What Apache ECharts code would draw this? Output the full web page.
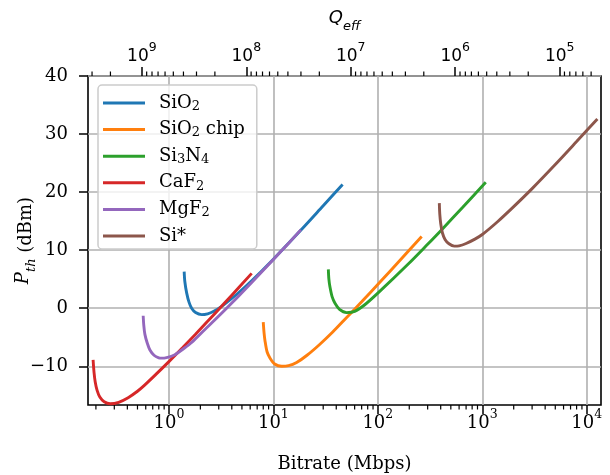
<!DOCTYPE html>
<html>
<head>
<meta charset="utf-8">
<script src="https://cdn.jsdelivr.net/npm/echarts@6/dist/echarts.min.js"></script>
<style>
html,body{margin:0;padding:0;background:#fff;}
#chart{width:610px;height:475px;}
</style>
</head>
<body>
<div id="chart"></div>
<script>
// ---- data (bitrate in Mbps, threshold power in dBm) ----
const seriesNames = ['SiO2', 'SiO2 chip', 'Si3N4', 'CaF2', 'MgF2', 'Si*'];
const seriesColors = ['#1f77b4', '#ff7f0e', '#2ca02c', '#d62728', '#9467bd', '#8c564b'];

const sio2Bitrate = [1.40, 1.42, 1.48, 1.56, 1.65, 1.8, 2.06, 2.35, 2.66, 3.3, 4.5, 6.2, 10, 18, 30, 46];
const sio2Power   = [6.3, 4.6, 2.6, 1.0, 0.0, -0.75, -1.1, -0.96, -0.58, 0.5, 2.45, 4.72, 8.45, 13.3, 17.65, 21.3];

const chipBitrate = [8.0, 8.15, 8.3, 8.7, 9.3, 10.3, 12.0, 14, 16.7, 21, 27.9, 37, 50.3, 70, 105, 160, 263];
const chipPower   = [-2.4, -4.3, -5.5, -7.5, -8.6, -9.6, -10.0, -9.9, -9.35, -8.1, -6.2, -4.1, -1.6, 1.1, 4.5, 8.1, 12.35];

const si3n4Bitrate = [33.6, 34.0, 34.8, 36.5, 38.9, 43, 50.3, 60, 75, 100, 200, 290, 420, 650, 1080];
const si3n4Power   = [6.7, 5.0, 3.7, 2.0, 0.86, -0.2, -0.75, -0.55, 0.6, 2.6, 7.8, 10.75, 13.75, 17.4, 21.7];

const caf2Bitrate = [0.188, 0.192, 0.197, 0.205, 0.218, 0.24, 0.274, 0.33, 0.407, 0.5, 0.589, 0.75, 1.0, 1.35, 1.78, 2.76, 4.0, 6.2];
const caf2Power   = [-8.9, -11.1, -12.7, -14.1, -15.3, -16.1, -16.45, -16.2, -15.4, -14.3, -13.2, -11.4, -9.2, -6.8, -4.55, -0.9, 2.25, 6.0];

const mgf2Bitrate = [0.567, 0.575, 0.589, 0.62, 0.658, 0.72, 0.8, 0.851, 0.95, 1.14, 1.4, 1.65, 2.2, 2.76, 4.0, 6.2, 10, 14, 18.3];
const mgf2Power   = [-1.3, -3.0, -4.5, -6.0, -7.2, -8.1, -8.55, -8.6, -8.5, -8.0, -6.9, -5.9, -3.7, -2.0, 0.9, 4.45, 8.4, 11.2, 13.5];

const siBitrate = [388, 392, 400, 415, 440, 480, 540, 600, 700, 850, 1000, 1400, 2000, 3000, 5000, 8000, 10000, 12650];
const siPower   = [18.1, 16.2, 14.6, 13.0, 11.85, 11.1, 10.7, 10.75, 11.15, 11.9, 12.7, 14.9, 17.5, 20.6, 24.75, 28.7, 30.6, 32.6];

// axis ranges and ticks
const bitrateMin = 0.168, bitrateMax = 13700;
const qConst = 5.51e8;                 // Q_eff = qConst / bitrate
const qMin = qConst / bitrateMax, qMax = qConst / bitrateMin;
const powerMin = -16.67, powerMax = 40;
const powerTicks = [-10, 0, 10, 20, 30, 40];
const bitrateMajorTicks = [1, 10, 100, 1000, 10000];
const qMajorTicks = [1e5, 1e6, 1e7, 1e8, 1e9];

function minorTicksIn(lo, hi) {
  const out = [];
  for (let e = -2; e <= 10; e++) {
    for (let m = 2; m <= 9; m++) {
      const v = m * Math.pow(10, e);
      if (v >= lo && v <= hi) out.push(v);
    }
  }
  return out;
}
const bitrateMinorTicks = minorTicksIn(bitrateMin, bitrateMax);
const qMinorTicks = minorTicksIn(qMin, qMax);

const seriesData = [
  [sio2Bitrate, sio2Power],
  [chipBitrate, chipPower],
  [si3n4Bitrate, si3n4Power],
  [caf2Bitrate, caf2Power],
  [mgf2Bitrate, mgf2Power],
  [siBitrate, siPower]
];

const SERIF = 'DejaVu Serif';
const SANS = 'DejaVu Sans';
const FS = 18;
const MAJOR_LEN = 9, MINOR_LEN = 4.5;

const legendRich = {
  s: { fontFamily: SERIF, fontSize: 13, lineHeight: 11, verticalAlign: 'bottom', color: '#000' }
};
const legendLabels = {
  'SiO2': 'SiO{s|2}',
  'SiO2 chip': 'SiO{s|2} chip',
  'Si3N4': 'Si{s|3}N{s|4}',
  'CaF2': 'CaF{s|2}',
  'MgF2': 'MgF{s|2}',
  'Si*': 'Si*'
};

function supRich(family, size) {
  return {
    b: { fontFamily: family, fontSize: size, lineHeight: 24, color: '#000', verticalAlign: 'bottom' },
    s: { fontFamily: family, fontSize: 12.5, lineHeight: 24, color: '#000', verticalAlign: 'top' }
  };
}
function powLabel(v) {
  const e = Math.round(Math.log10(v));
  return '{b|10}{s|' + e + '}';
}

const lineSeries = seriesNames.map((name, i) => ({
  name: name,
  type: 'line',
  xAxisIndex: 0,
  yAxisIndex: 0,
  data: seriesData[i][0].map((b, j) => [b, seriesData[i][1][j]]),
  showSymbol: false,
  symbol: 'none',
  smooth: 0.3,
  lineStyle: { width: 2.9, color: seriesColors[i], cap: 'butt' },
  itemStyle: { color: seriesColors[i] },
  z: 3
}));

const minorBottom = {
  type: 'custom',
  xAxisIndex: 0, yAxisIndex: 0,
  silent: true, clip: false,
  data: bitrateMinorTicks.map(v => [v, powerMin]),
  encode: { x: 0, y: 1 },
  renderItem: function (params, api) {
    const p = api.coord([api.value(0), powerMin]);
    return { type: 'line', shape: { x1: p[0], y1: p[1], x2: p[0], y2: p[1] + MINOR_LEN }, style: { stroke: '#000', lineWidth: 1.2 } };
  },
  z: 5
};
const minorTop = {
  type: 'custom',
  xAxisIndex: 1, yAxisIndex: 0,
  silent: true, clip: false,
  data: qMinorTicks.map(v => [v, powerMax]),
  encode: { x: 0, y: 1 },
  renderItem: function (params, api) {
    const p = api.coord([api.value(0), powerMax]);
    return { type: 'line', shape: { x1: p[0], y1: p[1], x2: p[0], y2: p[1] - MINOR_LEN }, style: { stroke: '#000', lineWidth: 1.2 } };
  },
  z: 5
};

const chart = echarts.init(document.getElementById('chart'), null, { renderer: 'canvas' });
chart.setOption({
  animation: false,
  backgroundColor: '#fff',
  grid: { left: 88, right: 9, top: 76, bottom: 70, containLabel: false, outerBoundsMode: 'none',
    show: true, borderColor: '#000', borderWidth: 1.6, backgroundColor: 'transparent' },
  legend: {
    data: seriesNames,
    orient: 'vertical',
    left: 98, top: 85,
    padding: [8, 12, 3, 5],
    itemGap: 6.6,
    itemWidth: 42, itemHeight: 3,
    icon: 'rect',
    borderColor: '#cccccc', borderWidth: 1.5, borderRadius: 4,
    backgroundColor: 'rgba(255,255,255,0.8)',
    selectedMode: false,
    formatter: function (name) { return legendLabels[name]; },
    textStyle: { fontFamily: SERIF, fontSize: FS, lineHeight: 20, color: '#000', padding: [0, 0, 0, 9], rich: legendRich }
  },
  xAxis: [
    {
      type: 'log', position: 'bottom', min: bitrateMin, max: bitrateMax, logBase: 10,
      name: 'Bitrate (Mbps)', nameLocation: 'middle', nameGap: 50, nameMoveOverlap: false,
      nameTextStyle: { fontFamily: SERIF, fontSize: FS, color: '#000' },
      axisLine: { show: false, onZero: false },
      axisTick: { show: true, length: MAJOR_LEN, lineStyle: { color: '#000', width: 1.5 }, customValues: bitrateMajorTicks },
      axisLabel: { margin: 3, customValues: bitrateMajorTicks, formatter: powLabel, rich: supRich(SERIF, FS) },
      splitLine: { show: true, lineStyle: { color: '#b0b0b0', width: 1.6 } },
      minorTick: { show: false }, minorSplitLine: { show: false }
    },
    {
      type: 'log', position: 'top', inverse: true, min: qMin, max: qMax, logBase: 10,
      name: '{i|Q}{e|eff}', nameLocation: 'middle', nameGap: 43, nameMoveOverlap: false,
      nameTextStyle: { rich: {
        i: { fontFamily: SANS, fontStyle: 'italic', fontSize: FS, color: '#000', lineHeight: 24, verticalAlign: 'top' },
        e: { fontFamily: SANS, fontStyle: 'italic', fontSize: 13, color: '#000', lineHeight: 24, verticalAlign: 'bottom' } } },
      axisLine: { show: false, onZero: false },
      axisTick: { show: true, length: MAJOR_LEN, lineStyle: { color: '#000', width: 1.5 }, customValues: qMajorTicks },
      axisLabel: { margin: 11, customValues: qMajorTicks, formatter: powLabel, rich: supRich(SANS, 17) },
      splitLine: { show: false },
      minorTick: { show: false }
    }
  ],
  yAxis: [{
    type: 'value', min: powerMin, max: powerMax,
    name: '{i|P}{s|th} (dBm)', nameLocation: 'middle', nameGap: 50, nameRotate: 90, nameMoveOverlap: false,
    nameTextStyle: { fontFamily: SERIF, fontSize: FS, color: '#000', rich: {
      i: { fontFamily: SERIF, fontStyle: 'italic', fontSize: FS, color: '#000', lineHeight: 24, verticalAlign: 'top' },
      s: { fontFamily: SERIF, fontStyle: 'italic', fontSize: 13, color: '#000', lineHeight: 24, verticalAlign: 'bottom' } } },
    axisLine: { show: false, onZero: false },
    axisTick: { show: true, length: MAJOR_LEN, lineStyle: { color: '#000', width: 1.5 }, customValues: powerTicks },
    axisLabel: { margin: 20, customValues: powerTicks, fontFamily: SERIF, fontSize: FS, color: '#000',
      formatter: function (v) { return String(v).replace('-', '\u2212'); } },
    splitLine: { show: true, lineStyle: { color: '#b0b0b0', width: 1.6 } }
  }],
  series: lineSeries.concat([minorBottom, minorTop])
});
</script>
</body>
</html>
